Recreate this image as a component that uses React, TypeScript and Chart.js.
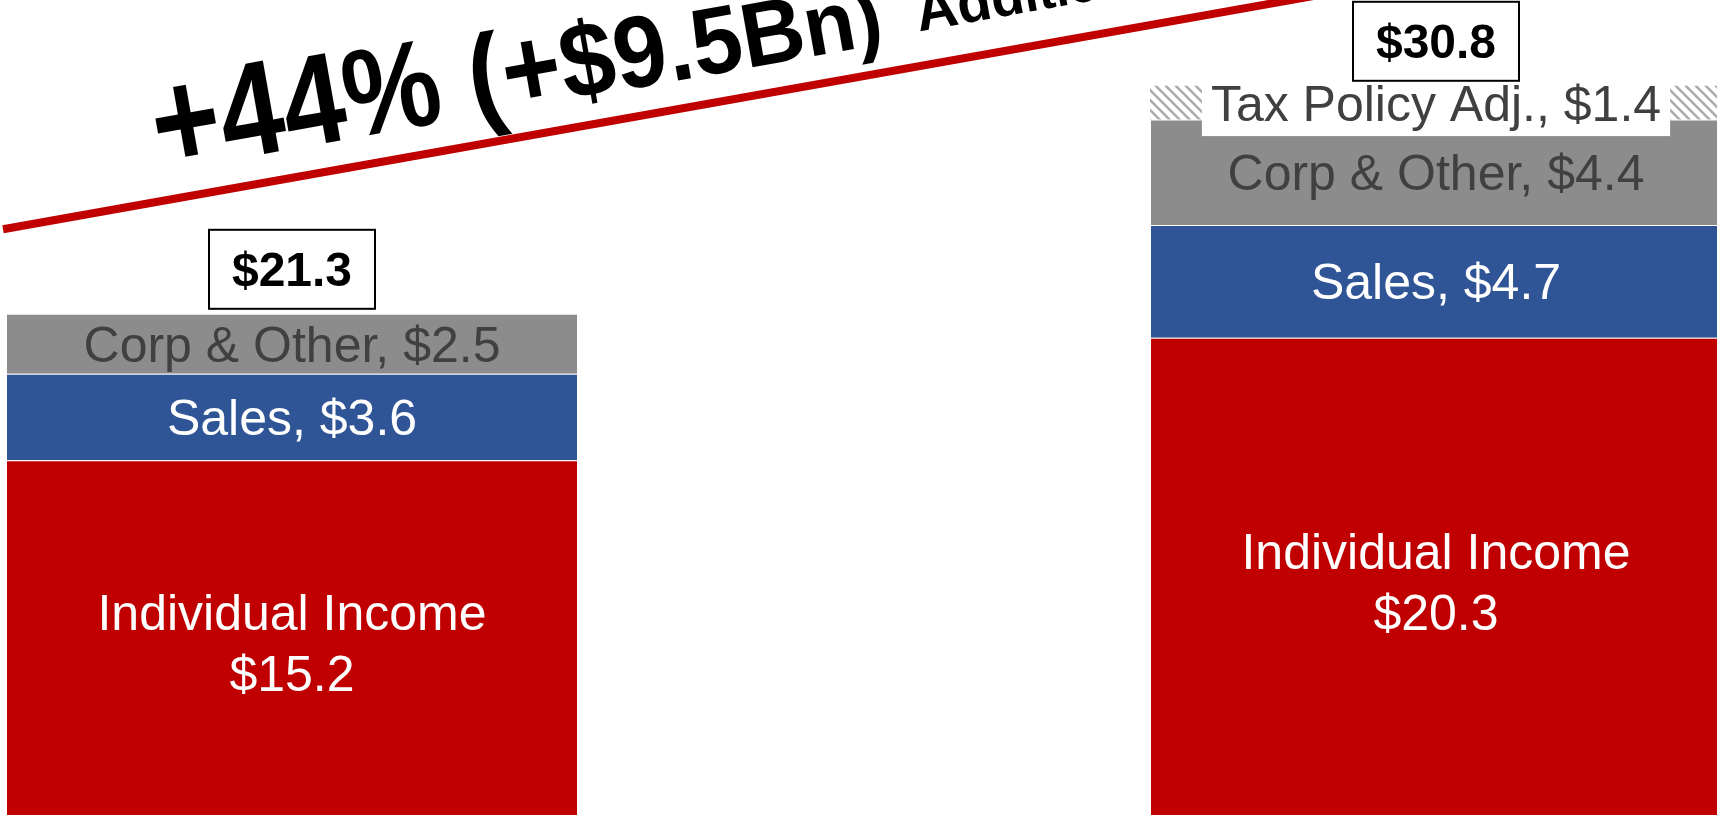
import React, { useEffect, useRef } from "react";
import { Chart, registerables } from "chart.js";

Chart.register(...registerables);

// ---------- data ----------
const categories = ["Current", "Projected"];
const individualIncome = [15.2, 20.3];
const sales = [3.6, 4.7];
const corpOther = [2.5, 4.4];
const taxPolicyAdj: (number | null)[] = [null, 1.4];
const seriesNames = ["Individual Income", "Sales", "Corp & Other", "Tax Policy Adj."];
const titleMain = "+44% (+$9.5Bn)";
const titleSub = "Additional";

// ---------- layout ----------
const VIEW_W = 1717;
const VIEW_H = 815;
const CANVAS_LEFT = -280;
const CANVAS_W = 2288;
const CANVAS_H = 825;
const Y_MAX = 34.375;

const FONT = '"Liberation Sans", Arial, Helvetica, sans-serif';
const LABEL_SIZE = 50;
const CAP = 0.716;

const fmt = (v: number) => `$${v.toFixed(1)}`;

const segmentLabels = {
  id: "segmentLabels",
  afterDatasetsDraw(chart: any) {
    const ctx: CanvasRenderingContext2D = chart.ctx;
    ctx.save();
    ctx.textAlign = "center";
    ctx.textBaseline = "alphabetic";
    ctx.font = `${LABEL_SIZE}px ${FONT}`;
    chart.data.datasets.forEach((ds: any, di: number) => {
      const meta = chart.getDatasetMeta(di);
      meta.data.forEach((el: any, i: number) => {
        const v = ds.data[i];
        if (v == null) return;
        const { x, y, base } = el.getProps(["x", "y", "base"], true);
        const cy = (y + base) / 2;
        const half = (CAP * LABEL_SIZE) / 2;
        if (ds.twoLine) {
          ctx.fillStyle = ds.labelColor;
          ctx.fillText(ds.label, x, cy - 30.5 + half);
          ctx.fillText(fmt(v), x, cy + 30.5 + half);
        } else {
          const text = `${ds.label}, ${fmt(v)}`;
          if (ds.labelBox) {
            const w = ctx.measureText(text).width + 18;
            ctx.fillStyle = "#FFFFFF";
            ctx.fillRect(x - w / 2, cy - 33.5, w, 67);
          }
          ctx.fillStyle = ds.labelColor;
          ctx.fillText(text, x, cy + half);
        }
      });
    });
    ctx.restore();
  },
};

const totalBoxes = {
  id: "totalBoxes",
  afterDatasetsDraw(chart: any) {
    const ctx: CanvasRenderingContext2D = chart.ctx;
    const yScale = chart.scales.y;
    const meta0 = chart.getDatasetMeta(0);
    ctx.save();
    categories.forEach((_, i) => {
      const total =
        individualIncome[i] + sales[i] + corpOther[i] + (taxPolicyAdj[i] ?? 0);
      const top = yScale.getPixelForValue(total);
      const x = meta0.data[i].x;
      const bw = 166;
      const bh = 79;
      const by = top - 5 - bh;
      ctx.fillStyle = "#FFFFFF";
      ctx.fillRect(x - bw / 2, by, bw, bh);
      ctx.strokeStyle = "#000000";
      ctx.lineWidth = 2;
      ctx.strokeRect(x - bw / 2, by, bw, bh);
      ctx.fillStyle = "#000000";
      ctx.font = `bold 48px ${FONT}`;
      ctx.textAlign = "center";
      ctx.textBaseline = "alphabetic";
      ctx.fillText(fmt(total), x, by + bh / 2 + (CAP * 48) / 2);
    });
    ctx.restore();
  },
};

const headline = {
  id: "headline",
  afterDraw(chart: any) {
    const ctx: CanvasRenderingContext2D = chart.ctx;
    ctx.save();
    ctx.translate(-CANVAS_LEFT, 0); // work in page coordinates
    const slope = -0.178;
    const ang = Math.atan(slope);

    // red underline
    const yAt0 = 123 - slope * 600; // line y at page x = 0
    ctx.strokeStyle = "#C00000";
    ctx.lineWidth = 8;
    ctx.lineCap = "butt";
    ctx.beginPath();
    ctx.moveTo(3, yAt0 + slope * 3);
    ctx.lineTo(1500, yAt0 + slope * 1500);
    ctx.stroke();

    // headline text with receding (perspective-like) size
    const startX = 160;
    const startY = 153 - slope * (270 - startX);
    ctx.translate(startX, startY);
    ctx.rotate(ang);
    ctx.fillStyle = "#000000";
    ctx.textBaseline = "alphabetic";
    ctx.textAlign = "left";
    const sizeAt = (d: number) => 139.5 - 0.081 * d;
    const squeezeAt = (d: number) => Math.min(1, 0.84 + 0.0002 * d);
    let d = 0;
    const drawRun = (text: string, factor: number, dy: number) => {
      for (const ch of text) {
        const s = sizeAt(d) * factor;
        const f = squeezeAt(d);
        ctx.font = `bold ${s}px ${FONT}`;
        const w = ctx.measureText(ch).width * f;
        ctx.save();
        ctx.translate(d, dy);
        ctx.scale(f, 1);
        ctx.fillText(ch, 0, 0);
        ctx.restore();
        d += w;
      }
    };
    drawRun(titleMain, 1, 0);
    d += 35;
    drawRun(titleSub, 0.76, -6);
    ctx.restore();
  },
};

function makeHatch(): CanvasPattern | string {
  const c = document.createElement("canvas");
  c.width = 10;
  c.height = 10;
  const g = c.getContext("2d");
  if (!g) return "#D0D0D0";
  g.fillStyle = "#FFFFFF";
  g.fillRect(0, 0, 10, 10);
  g.strokeStyle = "#ACACAC";
  g.lineWidth = 2.6;
  g.beginPath();
  g.moveTo(-5, -5);
  g.lineTo(15, 15);
  g.moveTo(-5, 5);
  g.lineTo(5, 15);
  g.moveTo(5, -5);
  g.lineTo(15, 5);
  g.stroke();
  const p = g.createPattern(c, "repeat");
  return p ?? "#D0D0D0";
}

export default function App() {
  const ref = useRef<HTMLCanvasElement | null>(null);

  useEffect(() => {
    if (!ref.current) return;
    const hatch = makeHatch();
    const common = {
      barPercentage: 0.5,
      categoryPercentage: 1.0,
      borderWidth: 1,
      borderColor: "rgba(255,255,255,0.35)",
      borderSkipped: "start",
    };
    const chart = new Chart(ref.current, {
      type: "bar",
      data: {
        labels: categories,
        datasets: [
          {
            ...common,
            label: seriesNames[0],
            data: individualIncome,
            backgroundColor: "#C00000",
            labelColor: "#FFFFFF",
            twoLine: true,
          } as any,
          {
            ...common,
            label: seriesNames[1],
            data: sales,
            backgroundColor: "#2F5597",
            labelColor: "#FFFFFF",
          } as any,
          {
            ...common,
            label: seriesNames[2],
            data: corpOther,
            backgroundColor: "#8C8C8C",
            labelColor: "#404040",
          } as any,
          {
            ...common,
            label: seriesNames[3],
            data: taxPolicyAdj,
            backgroundColor: hatch,
            borderWidth: 0,
            labelColor: "#404040",
            labelBox: true,
          } as any,
        ],
      },
      options: {
        animation: false,
        responsive: false,
        events: [],
        layout: { padding: 0 },
        plugins: {
          legend: { display: false },
          tooltip: { enabled: false },
          title: { display: false },
        },
        scales: {
          x: { stacked: true, display: false, grid: { display: false } },
          y: { stacked: true, display: false, min: 0, max: Y_MAX, grid: { display: false } },
        },
      },
      plugins: [segmentLabels, totalBoxes, headline],
    } as any);
    return () => chart.destroy();
  }, []);

  return (
    <div
      style={{
        position: "fixed",
        left: 0,
        top: 0,
        width: VIEW_W,
        height: VIEW_H,
        overflow: "hidden",
        background: "#FFFFFF",
      }}
    >
      <div style={{ position: "absolute", left: CANVAS_LEFT, top: 0, width: CANVAS_W, height: CANVAS_H }}>
        <canvas
          ref={ref}
          width={CANVAS_W}
          height={CANVAS_H}
          style={{ display: "block", width: CANVAS_W, height: CANVAS_H }}
        />
      </div>
    </div>
  );
}
